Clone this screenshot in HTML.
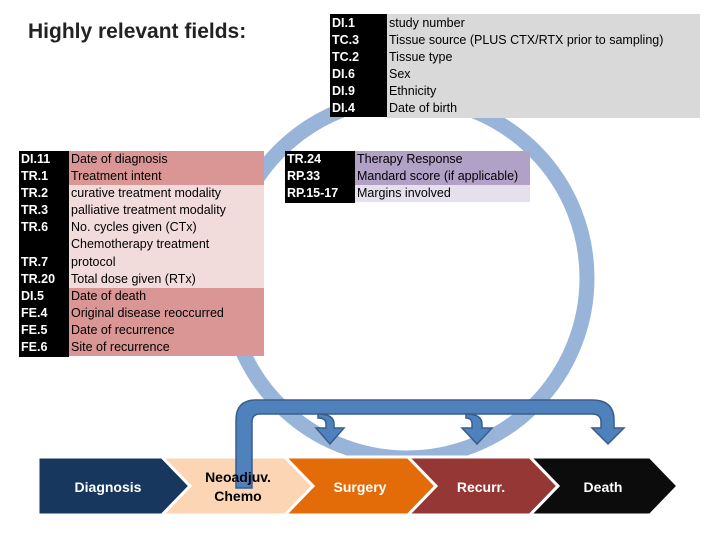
<!DOCTYPE html>
<html><head><style>
body{margin:0;width:720px;height:540px;background:#fff;position:relative;overflow:hidden;font-family:"Liberation Sans",Calibri,sans-serif}
.t{position:absolute;font-size:12.5px;line-height:17.1px;color:#000}
.k{position:absolute;background:#000;color:#fff;font-size:12.5px;line-height:17.1px;font-weight:bold;padding-left:2px;box-sizing:border-box}
.r{height:17.1px;padding-left:2px;white-space:nowrap}
</style></head><body>
<svg width="720" height="540" style="position:absolute;left:0;top:0">
<circle cx="407" cy="278" r="180" fill="none" stroke="#98b4d9" stroke-width="15"/>
<g stroke="#fff" stroke-width="3">
<polygon points="38,457 162,457 190,486 162,515 38,515" fill="#17375e"/>
<polygon points="162,457 285,457 313,486 285,515 162,515 190,486" fill="#fcd5b5"/>
<polygon points="285,457 408,457 436,486 408,515 285,515 313,486" fill="#e36c09"/>
<polygon points="408,457 530,457 558,486 530,515 408,515 436,486" fill="#953735"/>
<polygon points="530,457 650,457 678,486 650,515 530,515 558,486" fill="#0c0c0c"/>
</g>
<path d="M236,488 V420 Q236,400 256,400 H592 Q614,400 614,420 V428 H624 L608,444 L592,428 H601 V422 Q601,414 592,414 H260 Q252,414 252,422 V488 Z" fill="#4f81bd" stroke="#385d8a" stroke-width="1.5"/>
<path d="M318,414 Q334,414 334,424 V428 H344 L330,444 L316,428 H326 V424 Q326,418 318,418Z" fill="#4f81bd" stroke="#385d8a" stroke-width="1.5"/>
<path d="M466,414 Q482,414 482,424 V428 H492 L477,444 L462,428 H472 V424 Q472,418 466,418Z" fill="#4f81bd" stroke="#385d8a" stroke-width="1.5"/>
<g font-family="Liberation Sans,sans-serif" font-weight="bold" font-size="14" text-anchor="middle">
<text x="108" y="492" fill="#fff">Diagnosis</text>
<text x="238" y="482" fill="#000">Neoadjuv.</text>
<text x="238" y="501" fill="#000">Chemo</text>
<text x="360" y="492" fill="#fff">Surgery</text>
<text x="481" y="492" fill="#fff">Recurr.</text>
<text x="603" y="492" fill="#fff">Death</text>
</g>
</svg>
<div style="position:absolute;left:28px;top:20px;font-size:21px;font-weight:bold;color:#222">Highly relevant fields:</div>

<div class="k" style="left:330px;top:14px;width:57px;height:103px;padding-top:1px">DI.1<br>TC.3<br>TC.2<br>DI.6<br>DI.9<br>DI.4</div>
<div class="t" style="left:387px;top:14px;width:313px;height:103px;background:#d9d9d9;padding-top:1px">
<div class="r">study number</div><div class="r">Tissue source (PLUS CTX/RTX prior to sampling)</div><div class="r">Tissue type</div><div class="r">Sex</div><div class="r">Ethnicity</div><div class="r">Date of birth</div></div>

<div class="k" style="left:285px;top:151px;width:70px;height:52px">TR.24<br>RP.33<br>RP.15-17</div>
<div class="t" style="left:355px;top:151px;width:175px">
<div class="r" style="background:#b2a1c7">Therapy Response</div><div class="r" style="background:#b2a1c7">Mandard score (if applicable)</div><div class="r" style="background:#e5e0ec">Margins involved</div></div>

<div class="k" style="left:19px;top:151px;width:50px;height:206px">DI.11<br>TR.1<br>TR.2<br>TR.3<br>TR.6<br><br>TR.7<br>TR.20<br>DI.5<br>FE.4<br>FE.5<br>FE.6</div>
<div class="t" style="left:69px;top:151px;width:195px">
<div class="r" style="background:#d99694">Date of diagnosis</div>
<div class="r" style="background:#d99694">Treatment intent</div>
<div class="r" style="background:#f2dcdb">curative treatment modality</div>
<div class="r" style="background:#f2dcdb">palliative treatment modality</div>
<div class="r" style="background:#f2dcdb">No. cycles given (CTx)</div>
<div class="r" style="background:#f2dcdb">Chemotherapy treatment</div>
<div class="r" style="background:#f2dcdb">protocol</div>
<div class="r" style="background:#f2dcdb">Total dose given (RTx)</div>
<div class="r" style="background:#d99694">Date of death</div>
<div class="r" style="background:#d99694">Original disease reoccurred</div>
<div class="r" style="background:#d99694">Date of recurrence</div>
<div class="r" style="background:#d99694">Site of recurrence</div>
</div>
</body></html>
